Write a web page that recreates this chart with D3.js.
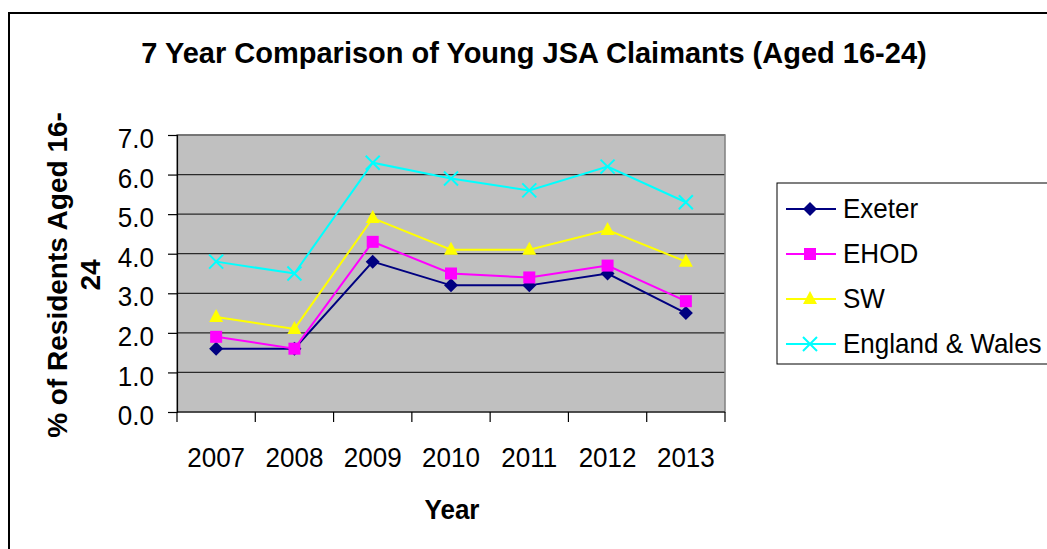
<!DOCTYPE html>
<html>
<head>
<meta charset="utf-8">
<script src="https://cdn.jsdelivr.net/npm/d3@7"></script>
<style>
  body { margin: 0; background: #fff; }
  svg { display: block; font-family: "Liberation Sans", Arial, sans-serif; }
</style>
</head>
<body>
<div id="chart"></div>
<script>
var years = ['2007', '2008', '2009', '2010', '2011', '2012', '2013'];
var exeter = [1.6, 1.6, 3.8, 3.2, 3.2, 3.5, 2.5];
var ehod = [1.9, 1.6, 4.3, 3.5, 3.4, 3.7, 2.8];
var sw = [2.4, 2.1, 4.9, 4.1, 4.1, 4.6, 3.8];
var englandWales = [3.8, 3.5, 6.3, 5.9, 5.6, 6.2, 5.3];
var yTicks = [0, 1, 2, 3, 4, 5, 6, 7];

var series = [
  { name: 'Exeter', values: exeter, color: '#000080', marker: 'diamond' },
  { name: 'EHOD', values: ehod, color: '#ff00ff', marker: 'square' },
  { name: 'SW', values: sw, color: '#ffff00', marker: 'triangle' },
  { name: 'England & Wales', values: englandWales, color: '#00ffff', marker: 'cross' }
];

var width = 1047, height = 549,
    plot = { left: 177, top: 135, right: 725, bottom: 412 },
    fontSize = 28,
    squeeze = 0.93; // the original text is a bit narrower than Arial

var svg = d3.select('#chart').append('svg')
  .attr('width', width).attr('height', height);

// outer chart border, runs off the right and bottom edges
svg.append('rect')
  .attr('x', 9).attr('y', 13)
  .attr('width', width + 10).attr('height', height + 10)
  .attr('fill', 'none').attr('stroke', '#000').attr('stroke-width', 2);

var x = d3.scaleBand().domain(years).range([plot.left, plot.right]);
var y = d3.scaleLinear().domain([0, 7]).range([plot.bottom, plot.top]);

svg.append('rect')
  .attr('x', plot.left).attr('y', plot.top)
  .attr('width', plot.right - plot.left).attr('height', plot.bottom - plot.top)
  .attr('fill', '#c0c0c0');

// gridlines
svg.append('g').selectAll('line')
  .data(yTicks.slice(1))
  .join('line')
  .attr('x1', plot.left).attr('x2', plot.right)
  .attr('y1', function(d) { return y(d); })
  .attr('y2', function(d) { return y(d); })
  .attr('stroke', '#2a2a2a').attr('stroke-width', 1.3);

svg.append('rect')
  .attr('x', plot.left).attr('y', plot.top)
  .attr('width', plot.right - plot.left).attr('height', plot.bottom - plot.top)
  .attr('fill', 'none').attr('stroke', '#808080').attr('stroke-width', 1.5);

// y axis
var yAxis = svg.append('g')
  .attr('transform', 'translate(' + plot.left + ',0)')
  .call(d3.axisLeft(y).tickValues(yTicks).tickSize(9)
    .tickFormat(d3.format('.1f')));
yAxis.select('.domain').attr('stroke', '#000').attr('stroke-width', 1.2);
yAxis.selectAll('.tick line').attr('stroke', '#000').attr('stroke-width', 1.2);
yAxis.selectAll('.tick text')
  .attr('x', 0).attr('dy', '0.45em')
  .attr('transform', 'translate(-23,0) scale(' + squeeze + ',1)')
  .attr('font-size', fontSize).attr('font-family', '"Liberation Sans", Arial, sans-serif')
  .attr('fill', '#000');

// x axis
var xTickPos = d3.range(years.length + 1).map(function(i) {
  return plot.left + i * x.step();
});
var xAxis = svg.append('g')
  .attr('transform', 'translate(0,' + plot.bottom + ')')
  .call(d3.axisBottom(x).tickSize(0));
xAxis.select('.domain').remove();
xAxis.selectAll('.tick text')
  .attr('y', 0).attr('dy', 0)
  .attr('transform', 'translate(0,55) scale(' + squeeze + ',1)')
  .attr('font-size', fontSize).attr('font-family', '"Liberation Sans", Arial, sans-serif')
  .attr('fill', '#000');
svg.append('line')
  .attr('x1', plot.left).attr('x2', plot.right)
  .attr('y1', plot.bottom).attr('y2', plot.bottom)
  .attr('stroke', '#000').attr('stroke-width', 1.2);
svg.append('g').selectAll('line')
  .data(xTickPos)
  .join('line')
  .attr('x1', function(d) { return d; }).attr('x2', function(d) { return d; })
  .attr('y1', plot.bottom).attr('y2', plot.bottom + 10)
  .attr('stroke', '#000').attr('stroke-width', 1.2);

function cx(i) { return x(years[i]) + x.bandwidth() / 2; }

function drawMarker(g, type, color) {
  if (type === 'diamond') {
    g.append('path').attr('d', 'M0,-7L7,0L0,7L-7,0Z').attr('fill', color);
  } else if (type === 'square') {
    g.append('rect').attr('x', -6).attr('y', -6).attr('width', 12).attr('height', 12)
      .attr('fill', color);
  } else if (type === 'triangle') {
    g.append('path').attr('d', 'M0,-8L7,5L-7,5Z').attr('fill', color);
  } else {
    g.append('path').attr('d', 'M-7,-7L7,7M7,-7L-7,7')
      .attr('stroke', color).attr('stroke-width', 2).attr('fill', 'none');
  }
}

var line = d3.line()
  .x(function(d, i) { return cx(i); })
  .y(function(d) { return y(d); });

series.forEach(function(s) {
  svg.append('path')
    .attr('d', line(s.values))
    .attr('fill', 'none').attr('stroke', s.color).attr('stroke-width', 2);
  s.values.forEach(function(v, i) {
    var g = svg.append('g').attr('transform', 'translate(' + cx(i) + ',' + y(v) + ')');
    drawMarker(g, s.marker, s.color);
  });
});

// title
svg.append('text')
  .attr('x', 534).attr('y', 63)
  .attr('text-anchor', 'middle')
  .attr('font-size', 29).attr('font-weight', 'bold')
  .text('7 Year Comparison of Young JSA Claimants (Aged 16-24)');

// axis titles
svg.append('text')
  .attr('transform', 'translate(452,519) scale(0.93,1)')
  .attr('text-anchor', 'middle')
  .attr('font-size', fontSize).attr('font-weight', 'bold')
  .text('Year');

var yTitle = svg.append('text')
  .attr('transform', 'translate(67,275) rotate(-90)')
  .attr('text-anchor', 'middle')
  .attr('font-size', fontSize).attr('font-weight', 'bold');
yTitle.append('tspan').attr('x', 0).attr('dy', 0).text('% of Residents Aged 16-');
yTitle.append('tspan').attr('x', 0).attr('dy', 33).text('24');

// legend
var legend = svg.append('g');
legend.append('rect')
  .attr('x', 777).attr('y', 183)
  .attr('width', 290).attr('height', 181)
  .attr('fill', '#fff').attr('stroke', '#000').attr('stroke-width', 1);

series.forEach(function(s, i) {
  var ly = 209 + i * 45;
  var row = legend.append('g');
  row.append('line')
    .attr('x1', 786).attr('x2', 836).attr('y1', ly).attr('y2', ly)
    .attr('stroke', s.color).attr('stroke-width', 2);
  drawMarker(row.append('g').attr('transform', 'translate(810,' + ly + ')'), s.marker, s.color);
  row.append('text')
    .attr('transform', 'translate(843,' + (ly + 9) + ') scale(' + squeeze + ',1)')
    .attr('font-size', fontSize)
    .text(s.name);
});
</script>
</body>
</html>
